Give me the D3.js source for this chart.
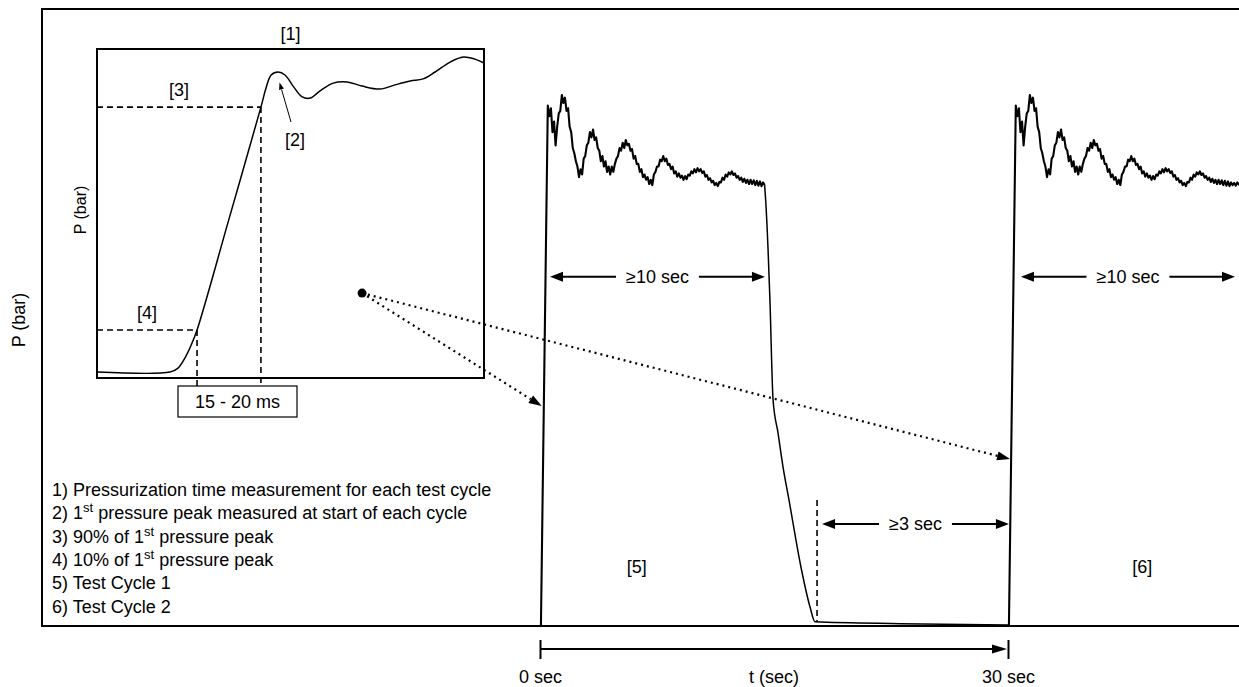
<!DOCTYPE html>
<html><head><meta charset="utf-8">
<script src="https://cdn.jsdelivr.net/npm/d3@7"></script>
<style>
body{margin:0;background:#fff;}
svg{display:block;font-family:"Liberation Sans",Arial,sans-serif;}
</style></head><body>
<svg id="chart" width="1239" height="687"></svg>
<script>
// ---------------- DATA ----------------
// main chart: time in seconds, pressure in % of first peak
const cycleOffsets = [0, 30];
const riseStart = [0.06, 0];
const plateauStart = 0.5, plateauStep = 0.1;
const plateauPressure = [
 98,96,97.5,93,95,90.5,94,96.5,97,100,
 98.5,99.5,97,97.5,94,93,90,89,87.5,86.5,
 84.5,86,85,88,88.5,90.5,91,93,92,93.5,
 91.5,92,90,89.5,87.5,88.5,86.5,87.5,85.5,86.5,
 85,86.5,85.5,87,88,88.5,90,89.5,91,90,
 91.5,90.5,90.8,89.5,89.8,88,88.5,87,87,85.5,
 86,84.5,85,84,84.5,83.2,84,83,85,85.5,
 86.5,86.5,87.8,87.5,88.5,87.5,88,86.8,87,86,
 86.5,85.2,85.6,84.6,85.2,84.4,84.8,84,84.7,84.1,
 85,84.8,85.6,85.2,86,85.4,86.2,85.6,86,85.3,
 85.6,84.6,84.9,84,84.3,83.5,83.8,83,83.4,82.8,
 83.6,83.5,84.4,84,85,84.6,85.4,85,85.6,84.9,
 85.2,84.4,84.7,84,84.4,83.6,84.2,83.4,84,83.2,
 84,83.2,83.9,83,83.8,82.9,83.7,82.8,83.5,83
];
const cycle2TailPressure = [83.4, 82.9, 83.5, 83.1, 83.4];
const decayTimes = [14.4,14.47,14.62,14.74,14.94,15.26,15.58,15.96,16.73,17.31,17.63,23.1,30.0];
const decayPressure = [83,80,70.8,61.3,42.5,36.2,29.8,23.6,10.9,3.4,0.6,0.25,0];

const durationLabels = ["\u226510 sec", "\u226510 sec", "\u22653 sec"];
const durationStart = [0.64, 30.83, 18.08];
const durationEnd = [14.42, 44.55, 30.06];
const durationLevel = [65.7, 65.7, 19.06];
const ventEndTime = 17.76;       // dashed marker at end of depressurization
const ventMarkerTop = 23.6;

const axisTicks = [0, 30];
const axisTickLabels = ["0 sec", "30 sec"];
const axisTitle = "t (sec)";
const yTitle = "P (bar)";

const cycleLabels = ["[5]", "[6]"];
const cycleLabelTimes = [6.2, 38.6];
const cycleLabelLevel = 11;

// inset: time in ms, pressure in % of first peak
const insetTimes = [0,20,22.2,24.1,25.8,27.4,36.2,44.9,46.3,47.7,49.6,51.5,53.7,56.2,58.4,61.1,64.7,68.5,72.6,77.5,81.6,85.8,89.3,92.6,96.7,100.3,103.5,106];
const insetPressure = [0,0,1.3,4.7,9,14,51.2,88.3,94.7,99,100,99,95.3,91.7,91.3,93.7,96.3,96.7,95.3,94.3,95.7,97,97.7,100,103.3,105,104.3,103];
const thresholdLabels = ["[3]", "[4]"];
const thresholdLevels = [88.3, 14];
const thresholdTimes = [44.9, 27.4];
const riseTimeLabel = "15 - 20 ms";

const legendItems = [
  ["1) Pressurization time measurement for each test cycle"],
  ["2) 1", "st", " pressure peak measured at start of each cycle"],
  ["3) 90% of 1", "st", " pressure peak"],
  ["4) 10% of 1", "st", " pressure peak"],
  ["5) Test Cycle 1"],
  ["6) Test Cycle 2"]
];

// ---------------- DRAW ----------------
const svg = d3.select("#chart");
const x = d3.scaleLinear().domain([0, 30]).range([540, 1008]);
const y = d3.scaleLinear().domain([0, 100]).range([625, 95]);
const ix = d3.scaleLinear().domain([0, 106]).range([97, 484]);
const iy = d3.scaleLinear().domain([0, 100]).range([372, 72]);
const FS = 18;

function arrowHead(g, tx, ty, ang, len, wid) {
  const bx = tx - len * Math.cos(ang), by = ty - len * Math.sin(ang);
  const px = -Math.sin(ang) * wid / 2, py = Math.cos(ang) * wid / 2;
  g.append("path").attr("d", `M${tx},${ty}L${bx+px},${by+py}L${bx-px},${by-py}Z`).attr("fill", "#000");
}

// outer frame
svg.append("rect").attr("x", 42).attr("y", 9).attr("width", 1220).attr("height", 617)
  .attr("fill", "none").attr("stroke", "#000").attr("stroke-width", 2);

// y title
svg.append("text").attr("transform", "translate(25,320) rotate(-90)")
  .attr("text-anchor", "middle").attr("font-size", 18).text(yTitle);

const main = svg.append("g");
const line = d3.line().x(d => x(d[0])).y(d => y(d[1]));

cycleOffsets.forEach((off, ci) => {
  const pts = [[riseStart[0] + off, riseStart[1]]];
  plateauPressure.forEach((p, i) => pts.push([plateauStart + plateauStep * i + off, p]));
  if (ci === 1) cycle2TailPressure.forEach((p, i) => pts.push([plateauStart + plateauStep * (plateauPressure.length + i) + off, p]));
  main.append("path").attr("d", line(pts)).attr("fill", "none").attr("stroke", "#000")
    .attr("stroke-width", 2.1).attr("stroke-linejoin", "round");
  if (ci === 0) {
    const dpts = decayTimes.map((t, i) => [t + off, decayPressure[i]]);
    main.append("path").attr("d", line.curve(d3.curveMonotoneX)(dpts)).attr("fill", "none")
      .attr("stroke", "#000").attr("stroke-width", 1.5);
    line.curve(d3.curveLinear);
  }
});

// vent end dashed marker
main.append("line").attr("x1", x(ventEndTime)).attr("x2", x(ventEndTime))
  .attr("y1", y(ventMarkerTop)).attr("y2", y(0.6))
  .attr("stroke", "#000").attr("stroke-width", 1.6).attr("stroke-dasharray", "6,4");

// duration arrows
durationLabels.forEach((lab, i) => {
  const x1 = x(durationStart[i]), x2 = x(durationEnd[i]), yy = y(durationLevel[i]);
  const cx = (x1 + x2) / 2;
  const t = main.append("text").attr("x", cx).attr("y", yy + 6.5).attr("text-anchor", "middle")
    .attr("font-size", FS).text(lab);
  const w = t.node().getComputedTextLength();
  const gap = 10, hl = 13;
  main.append("line").attr("x1", x1 + hl - 1).attr("x2", cx - w / 2 - gap).attr("y1", yy).attr("y2", yy)
    .attr("stroke", "#000").attr("stroke-width", 2);
  main.append("line").attr("x1", cx + w / 2 + gap).attr("x2", x2 - hl + 1).attr("y1", yy).attr("y2", yy)
    .attr("stroke", "#000").attr("stroke-width", 2);
  arrowHead(main, x1, yy, Math.PI, hl, 10);
  arrowHead(main, x2, yy, 0, hl, 10);
});

// cycle labels
cycleLabels.forEach((lab, i) => {
  main.append("text").attr("x", x(cycleLabelTimes[i])).attr("y", y(cycleLabelLevel) + 6)
    .attr("text-anchor", "middle").attr("font-size", FS).text(lab);
});

// bottom time axis
const axisG = svg.append("g").attr("transform", "translate(0,640)")
  .call(d3.axisBottom(x).tickValues(axisTicks).tickFormat((d, i) => axisTickLabels[i]).tickSize(19).tickPadding(11));
axisG.select(".domain").remove();
axisG.selectAll(".tick line").attr("stroke", "#000").attr("stroke-width", 2);
axisG.selectAll(".tick text").attr("font-size", FS).attr("fill", "#000").attr("font-family", '"Liberation Sans",Arial,sans-serif');
svg.append("line").attr("x1", x(0)).attr("x2", x(30) - 14).attr("y1", 649).attr("y2", 649)
  .attr("stroke", "#000").attr("stroke-width", 2);
arrowHead(svg, x(30) - 1, 649, 0, 15, 9);
svg.append("text").attr("x", (x(0) + x(30)) / 2).attr("y", 683).attr("text-anchor", "middle")
  .attr("font-size", FS).text(axisTitle);

// ---------------- INSET ----------------
const inset = svg.append("g");
inset.append("rect").attr("x", 97).attr("y", 49).attr("width", 387).attr("height", 329)
  .attr("fill", "#fff").attr("stroke", "#000").attr("stroke-width", 2);
inset.append("text").attr("transform", "translate(86,210) rotate(-90)")
  .attr("text-anchor", "middle").attr("font-size", 16).text("P (bar)");
inset.append("text").attr("x", (ix(0) + ix(106)) / 2).attr("y", 40).attr("text-anchor", "middle")
  .attr("font-size", FS).text("[1]");

const iline = d3.line().x(d => ix(d[0])).y(d => iy(d[1])).curve(d3.curveCatmullRom.alpha(0.5));
inset.append("path").attr("d", iline(insetTimes.map((t, i) => [t, insetPressure[i]])))
  .attr("fill", "none").attr("stroke", "#000").attr("stroke-width", 1.5);

const boxTop = 386, boxBot = 417;
thresholdLevels.forEach((lv, i) => {
  const xx = ix(thresholdTimes[i]), yy = iy(lv);
  inset.append("line").attr("x1", ix(0)).attr("x2", xx).attr("y1", yy).attr("y2", yy)
    .attr("stroke", "#000").attr("stroke-width", 1.6).attr("stroke-dasharray", "6,4");
  inset.append("line").attr("x1", xx).attr("x2", xx).attr("y1", yy).attr("y2", boxTop)
    .attr("stroke", "#000").attr("stroke-width", 1.6).attr("stroke-dasharray", "6,4");
  inset.append("text").attr("x", (ix(0) + xx) / 2).attr("y", yy - 11)
    .attr("text-anchor", "middle").attr("font-size", FS).text(thresholdLabels[i]);
});
inset.append("rect").attr("x", 178).attr("y", boxTop).attr("width", 119).attr("height", boxBot - boxTop)
  .attr("fill", "#fff").attr("stroke", "#000").attr("stroke-width", 1.2);
inset.append("text").attr("x", 237.5).attr("y", 408).attr("text-anchor", "middle")
  .attr("font-size", FS).text(riseTimeLabel);

// [2] pointer to first peak
const pk = [ix(50), iy(96.5)];
inset.append("line").attr("x1", 291).attr("y1", 122).attr("x2", pk[0] + 2).attr("y2", pk[1] + 7)
  .attr("stroke", "#000").attr("stroke-width", 1);
arrowHead(inset, pk[0], pk[1], Math.atan2(pk[1] - 122, pk[0] - 291), 7, 5);
inset.append("text").attr("x", 295).attr("y", 146).attr("text-anchor", "middle")
  .attr("font-size", FS).text("[2]");

// zoom dot and dotted links
const dot = [ix(72.6), iy(26.3)];
svg.append("circle").attr("cx", dot[0]).attr("cy", dot[1]).attr("r", 4.5).attr("fill", "#000");
const targets = [[x(0.11), y(41.3)], [x(30.13), y(31.3)]];
targets.forEach(tg => {
  const ang = Math.atan2(tg[1] - dot[1], tg[0] - dot[0]);
  const hl = 13;
  svg.append("line").attr("x1", dot[0]).attr("y1", dot[1])
    .attr("x2", tg[0] - hl * Math.cos(ang)).attr("y2", tg[1] - hl * Math.sin(ang))
    .attr("stroke", "#000").attr("stroke-width", 2.2).attr("stroke-dasharray", "2,4");
  arrowHead(svg, tg[0], tg[1], ang, hl, 9);
});

// legend
const legG = svg.append("g");
legendItems.forEach((parts, i) => {
  const t = legG.append("text").attr("x", 52).attr("y", 496 + i * 23.3).attr("font-size", FS);
  parts.forEach((s, j) => {
    if (j === 1) t.append("tspan").attr("font-size", 13).attr("dy", -7).text(s);
    else if (j === 2) t.append("tspan").attr("dy", 7).text(s);
    else t.append("tspan").text(s);
  });
});
</script>
</body></html>
